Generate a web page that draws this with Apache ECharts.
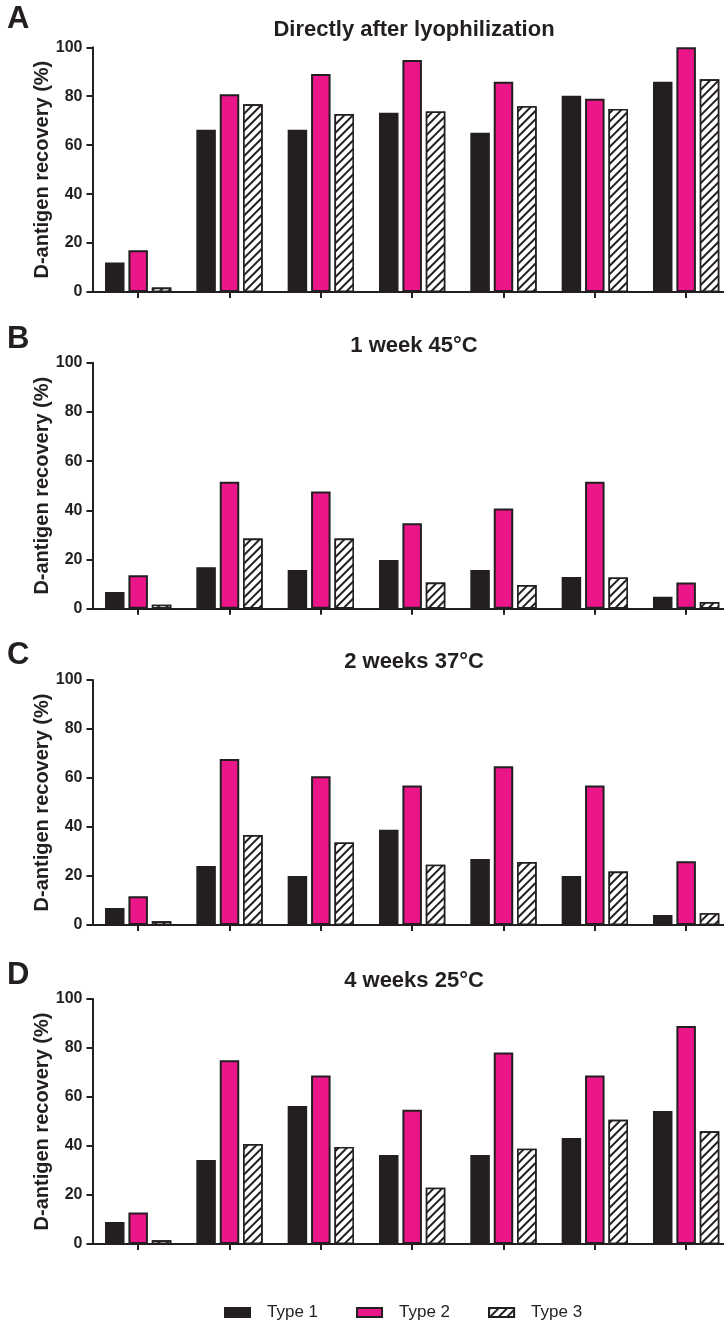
<!DOCTYPE html>
<html>
<head>
<meta charset="utf-8">
<script src="https://cdn.jsdelivr.net/npm/echarts@6/dist/echarts.min.js"></script>
<style>
html,body{margin:0;padding:0;background:#fff;}
#chart{width:724px;height:1322px;}
</style>
</head>
<body>
<div id="chart"></div>
<script>
// ---- data ----
const categories = ['F1', 'F2', 'F3', 'F4', 'F5', 'F6', 'F7'];
const seriesNames = ['Type 1', 'Type 2', 'Type 3'];
const panelLetters = ['A', 'B', 'C', 'D'];
const panelTitles = ['Directly after lyophilization', '1 week 45°C', '2 weeks 37°C', '4 weeks 25°C'];
const yTicks = [0, 20, 40, 60, 80, 100];
const yAxisName = 'D-antigen recovery (%)';

const A_type1 = [12.1, 66.3, 66.3, 73.3, 65.1, 80.2, 85.9];
const A_type2 = [17.1, 80.8, 89.1, 94.8, 85.9, 79.0, 100];
const A_type3 = [1.8, 76.7, 72.7, 73.8, 75.9, 74.8, 86.9];

const B_type1 = [6.8, 16.9, 15.7, 19.8, 15.7, 12.9, 4.9];
const B_type2 = [13.6, 51.6, 47.6, 34.7, 40.7, 51.6, 10.7];
const B_type3 = [1.6, 28.5, 28.5, 10.6, 9.6, 12.7, 2.7];

const C_type1 = [6.9, 24.1, 20.0, 38.9, 26.9, 20.0, 4.1];
const C_type2 = [11.7, 67.8, 60.7, 56.9, 64.8, 56.9, 26.0];
const C_type3 = [1.5, 36.7, 33.7, 24.6, 25.7, 21.8, 4.8];

const D_type1 = [9.0, 34.3, 56.3, 36.3, 36.3, 43.3, 54.3];
const D_type2 = [12.9, 75.0, 68.8, 54.8, 78.2, 68.8, 89.0];
const D_type3 = [1.5, 40.8, 39.6, 23.0, 38.9, 50.7, 46.0];

const panelData = [
  [A_type1, A_type2, A_type3],
  [B_type1, B_type2, B_type3],
  [C_type1, C_type2, C_type3],
  [D_type1, D_type2, D_type3]
];

// ---- layout / style ----
const FONT = '"Liberation Sans", Arial, Helvetica, sans-serif';
const INK = '#231f20';
const PINK = '#EC168B';
const gridTops = [47.3, 362.7, 680, 999];
const gridHeights = [244.7, 246, 245, 245];
const gridLeft = 92.5;
const gridWidth = 639.3;
const titleYs = [30, 345.5, 661.5, 980.5];
const letterYs = [19.5, 340, 656, 976];

const hatch = {
  symbol: 'rect',
  symbolSize: 1,
  color: INK,
  backgroundColor: '#ffffff',
  dashArrayX: [1, 0],
  dashArrayY: [1.6, 3.2],
  rotation: -Math.PI / 4
};

const seriesStyles = [
  { color: INK, borderColor: INK, borderWidth: 1.5 },
  { color: PINK, borderColor: INK, borderWidth: 2 },
  { color: '#ffffff', borderColor: INK, borderWidth: 1.6, decal: hatch }
];

const grids = [], xAxes = [], yAxes = [], series = [], graphics = [];
panelData.forEach((vals, p) => {
  grids.push({ left: gridLeft, top: gridTops[p], width: gridWidth, height: gridHeights[p], outerBoundsMode: 'none', containLabel: false });
  xAxes.push({
    type: 'category', gridIndex: p, data: categories,
    axisLine: { show: true, lineStyle: { color: INK, width: 2 } },
    axisTick: { show: true, alignWithLabel: true, length: 6, lineStyle: { color: INK, width: 2 } },
    axisLabel: { show: false },
    splitLine: { show: false }
  });
  yAxes.push({
    type: 'value', gridIndex: p, min: 0, max: 100, interval: 20,
    name: yAxisName, nameLocation: 'middle', nameRotate: 90, nameGap: 40, nameMoveOverlap: false,
    nameTextStyle: { fontFamily: FONT, fontWeight: 'bold', fontSize: 20, color: INK },
    axisLine: { show: true, lineStyle: { color: INK, width: 2 } },
    axisTick: { show: true, length: 6, lineStyle: { color: INK, width: 2 } },
    axisLabel: { fontFamily: FONT, fontWeight: 'bold', fontSize: 16, color: INK, margin: 10 },
    splitLine: { show: false }
  });
  vals.forEach((arr, s) => {
    series.push({
      type: 'bar', name: seriesNames[s], xAxisIndex: p, yAxisIndex: p,
      data: arr, barWidth: 19.5, barGap: '20%',
      itemStyle: seriesStyles[s],
      emphasis: { disabled: true },
      animation: false
    });
  });
  graphics.push({
    type: 'text', left: 7, top: letterYs[p] - 16,
    style: { text: panelLetters[p], font: 'bold 31px ' + FONT, fill: INK }
  });
  graphics.push({
    type: 'text', x: 414, y: titleYs[p],
    style: { text: panelTitles[p], font: 'bold 22px ' + FONT, fill: INK, align: 'center', verticalAlign: 'middle' }
  });
});

const chart = echarts.init(document.getElementById('chart'), null, { renderer: 'canvas' });
chart.setOption({
  animation: false,
  backgroundColor: '#ffffff',
  grid: grids,
  xAxis: xAxes,
  yAxis: yAxes,
  series: series,
  graphic: graphics,
  legend: {
    data: seriesNames,
    icon: 'rect',
    left: 219, top: 1299,
    itemWidth: 25, itemHeight: 9, itemGap: 38,
    selectedMode: false,
    textStyle: { fontFamily: FONT, fontSize: 17, color: INK, padding: [0, 0, 0, 12] }
  }
});
</script>
</body>
</html>
